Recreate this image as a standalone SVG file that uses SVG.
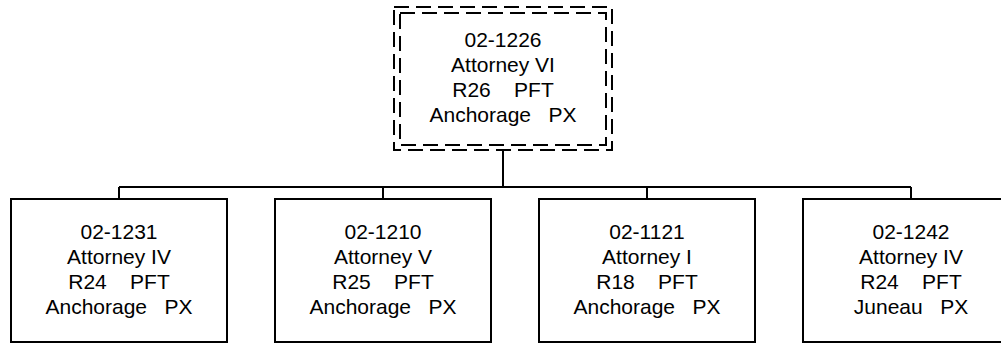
<svg xmlns="http://www.w3.org/2000/svg" width="1001" height="345" viewBox="0 0 1001 345">
<style>
.box{fill:#fff;stroke:#000;stroke-width:2}
.dash{fill:none;stroke:#000;stroke-width:2;stroke-dasharray:15 7}
.conn{fill:none;stroke:#000;stroke-width:2}
text{font-family:"Liberation Sans",Arial,sans-serif;font-size:21px;fill:#000;text-anchor:middle}
</style>
<rect width="1001" height="345" fill="#fff"/>
<g id="connectors">
<path class="conn" d="M503 150V187M119 187H911M119 187V199M383 187V199M647 187V199M911 187V199"/>
</g>
<g id="n1226">
<rect x="394" y="7" width="218" height="143" fill="#fff"/>
<rect class="dash" x="394" y="7" width="218" height="143"/>
<rect class="dash" x="400" y="13" width="206" height="132"/>
<text x="503" y="47" xml:space="preserve">02-1226</text>
<text x="503" y="72" xml:space="preserve">Attorney VI</text>
<text x="503" y="97" xml:space="preserve">R26    PFT</text>
<text x="503" y="122" xml:space="preserve">Anchorage   PX</text>
</g>
<g id="n1231">
<rect class="box" x="11" y="199" width="216" height="143"/>
<text x="119" y="239" xml:space="preserve">02-1231</text>
<text x="119" y="264" xml:space="preserve">Attorney IV</text>
<text x="119" y="289" xml:space="preserve">R24    PFT</text>
<text x="119" y="314" xml:space="preserve">Anchorage   PX</text>
</g>
<g id="n1210">
<rect class="box" x="275" y="199" width="216" height="143"/>
<text x="383" y="239" xml:space="preserve">02-1210</text>
<text x="383" y="264" xml:space="preserve">Attorney V</text>
<text x="383" y="289" xml:space="preserve">R25    PFT</text>
<text x="383" y="314" xml:space="preserve">Anchorage   PX</text>
</g>
<g id="n1121">
<rect class="box" x="539" y="199" width="216" height="143"/>
<text x="647" y="239" xml:space="preserve">02-1121</text>
<text x="647" y="264" xml:space="preserve">Attorney I</text>
<text x="647" y="289" xml:space="preserve">R18    PFT</text>
<text x="647" y="314" xml:space="preserve">Anchorage   PX</text>
</g>
<g id="n1242">
<rect class="box" x="803" y="199" width="216" height="143"/>
<text x="911" y="239" xml:space="preserve">02-1242</text>
<text x="911" y="264" xml:space="preserve">Attorney IV</text>
<text x="911" y="289" xml:space="preserve">R24    PFT</text>
<text x="911" y="314" xml:space="preserve">Juneau   PX</text>
</g>
</svg>
